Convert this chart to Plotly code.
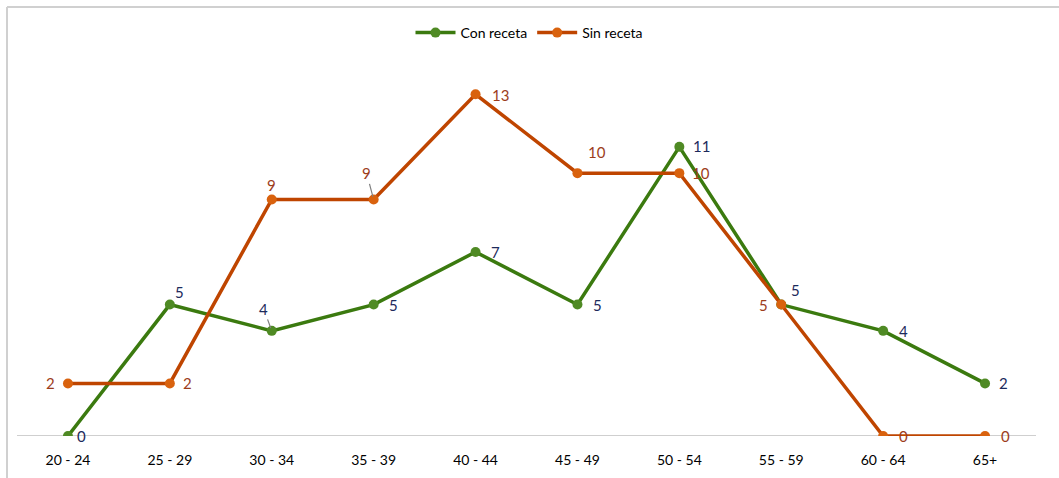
import plotly.graph_objects as go

# Age groups and counts per group
categories = ["20 - 24", "25 - 29", "30 - 34", "35 - 39", "40 - 44",
              "45 - 49", "50 - 54", "55 - 59", "60 - 64", "65+"]
con_receta = [0, 5, 4, 5, 7, 5, 11, 5, 4, 2]
sin_receta = [2, 2, 9, 9, 13, 10, 10, 5, 0, 0]

GREEN_LINE = "#3b7a0f"
GREEN_MARK = "#4f8a24"
GREEN_TEXT = "#1c2a5c"
ORANGE_LINE = "#bf4500"
ORANGE_MARK = "#d9620e"
ORANGE_TEXT = "#9c3d1c"

FONT = "Lato, 'Open Sans', sans-serif"

fig = go.Figure()
fig.add_trace(go.Scatter(
    x=categories, y=con_receta, name="Con receta", mode="lines+markers",
    line=dict(color=GREEN_LINE, width=3.5),
    marker=dict(color=GREEN_MARK, size=10),
))
fig.add_trace(go.Scatter(
    x=categories, y=sin_receta, name="Sin receta", mode="lines+markers",
    line=dict(color=ORANGE_LINE, width=3.5),
    marker=dict(color=ORANGE_MARK, size=10),
))

# Per-point label offsets (pixels) and leader-line flags
con_offsets = [(14, 0), (10, -13), (-8, -22), (20, 0), (20, 0),
               (20, 0), (22, -1), (14, -15), (20, 0), (18, 0)]
sin_offsets = [(-17, 0), (18, 0), (0, -14), (-7, -26), (25, 1),
               (20, -21), (22, 0), (-18, 0), (20, 0), (20, 0)]
con_leader = [False, False, True, False, False, False, False, False, False, False]
sin_leader = [False, False, False, True, False, False, False, False, False, False]

annotations = []
for values, offsets, leaders, color in (
        (con_receta, con_offsets, con_leader, GREEN_TEXT),
        (sin_receta, sin_offsets, sin_leader, ORANGE_TEXT)):
    for cat, val, (dx, dy), lead in zip(categories, values, offsets, leaders):
        if lead:
            annotations.append(dict(
                x=cat, y=val, text=str(val), showarrow=True, arrowhead=0,
                arrowwidth=1.2, arrowcolor="#7f7f7f", ax=dx, ay=dy,
                standoff=3, font=dict(family=FONT, size=15, color=color),
            ))
        else:
            annotations.append(dict(
                x=cat, y=val, text=str(val), showarrow=False,
                xshift=dx, yshift=-dy,
                font=dict(family=FONT, size=15, color=color),
            ))

fig.update_layout(
    width=1059, height=478,
    margin=dict(l=17, r=23, t=68, b=42),
    paper_bgcolor="white", plot_bgcolor="white",
    font=dict(family=FONT, size=14, color="#000000"),
    showlegend=True,
    legend=dict(orientation="h", x=0.5, xanchor="center", xref="container",
                yref="container", y=1 - 33 / 478, yanchor="middle",
                font=dict(family=FONT, size=14, color="#000000"),
                itemwidth=40, bgcolor="rgba(0,0,0,0)"),
    xaxis=dict(type="category", range=[-0.5, 9.5], showgrid=False,
               showline=False, zeroline=False, ticks="", automargin=False,
               tickfont=dict(family=FONT, size=14, color="#000000")),
    yaxis=dict(range=[0, 14], showgrid=False, showticklabels=False,
               zeroline=False, showline=False, automargin=False),
    annotations=annotations,
    shapes=[
        # baseline at y = 0
        dict(type="line", xref="paper", yref="y", x0=0, x1=1, y0=0, y1=0,
             line=dict(color="#bfbfbf", width=1.5), layer="below"),
        # frame edges
        dict(type="line", xref="paper", yref="paper",
             x0=-10 / 1019, x1=(1059 - 17) / 1019, y0=(478 - 42 - 7) / 368, y1=(478 - 42 - 7) / 368,
             line=dict(color="#d0d0d0", width=2)),
        dict(type="line", xref="paper", yref="paper",
             x0=-10 / 1019, x1=-10 / 1019, y0=(478 - 42 - 7) / 368, y1=-42 / 368,
             line=dict(color="#d0d0d0", width=2)),
    ],
)
fig.update_xaxes(ticklabelstandoff=14)

fig.write_html("out.html")
